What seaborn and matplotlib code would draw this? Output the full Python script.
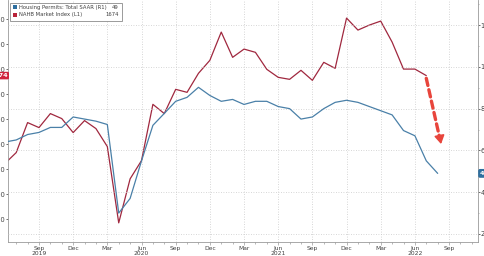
import matplotlib
matplotlib.use("Agg")
import matplotlib.pyplot as plt
import seaborn as sns
import pandas as pd
from matplotlib.patches import Rectangle

# ---- data (monthly, month index: 0 = Jan 2019) ----
permit_months = list(range(5, 43))          # Jun 2019 .. Jul 2022
permits = [1322, 1366, 1486, 1466, 1522, 1502, 1446, 1494, 1462, 1390,
           1085, 1261, 1334, 1559, 1522, 1619, 1607, 1683, 1735, 1848,
           1747, 1780, 1767, 1699, 1667, 1659, 1695, 1655, 1727, 1703,
           1904, 1856, 1876, 1892, 1808, 1700, 1700, 1674]
nahb_months = list(range(5, 44))            # Jun 2019 .. Aug 2022
nahb = [64, 65, 67.6, 68.6, 71, 71, 76, 75, 74, 72.4,
        30, 37, 55, 72, 77.7, 83.5, 85.4, 90.2, 86.3, 83.5,
        84.4, 82, 83.5, 83.5, 81, 80, 75, 76, 80, 83,
        84, 83, 81, 79, 77, 69.5, 67, 55, 49]

xtick_pos = [8, 11, 14, 17, 20, 23, 26, 29, 32, 35, 38, 41, 44]
xtick_labels = ["Sep\n2019", "Dec", "Mar", "Jun\n2020", "Sep", "Dec", "Mar",
                "Jun\n2021", "Sep", "Dec", "Mar", "Jun\n2022", "Sep"]
left_ticks = [1100, 1200, 1300, 1400, 1500, 1600, 1700, 1800, 1900]
right_ticks = [20, 40, 60, 80, 100, 120]

legend_labels = ["Housing Permits: Total SAAR (R1)", "NAHB Market Index (L1)"]
legend_values = ["49", "1674"]

RED = "#a0283f"
BLUE = "#4a80a8"
GRID = "#c9c9c9"
SPINE = "#9a9a9a"
TXT = "#404040"
SQ_BLUE = "#2f6f9f"
SQ_RED = "#b8233a"

sns.set_style("white")
plt.rcParams["font.family"] = ["DejaVu Sans"]

W, H = 485, 256
fig = plt.figure(figsize=(W / 100, H / 100), dpi=100)
ax = fig.add_axes([8 / W, 14 / H, 470 / W, 242 / H])
ax2 = ax.twinx()

df_p = pd.DataFrame({"m": permit_months, "v": permits})
df_n = pd.DataFrame({"m": nahb_months, "v": nahb})
sns.lineplot(data=df_p, x="m", y="v", ax=ax, color=RED, lw=0.9)
sns.lineplot(data=df_n, x="m", y="v", ax=ax2, color=BLUE, lw=0.9)

ax.set_xlim(5.28, 46.54)
ax.set_ylim(1008.4, 1976.3)
ax2.set_ylim(16.15, 132.0)

for a in (ax, ax2):
    a.set_xlabel("")
    a.set_ylabel("")
    for s in a.spines.values():
        s.set_visible(False)

for a, side in ((ax, "left"), (ax, "bottom"), (ax2, "right")):
    a.spines[side].set_visible(True)
    a.spines[side].set_color(SPINE)
    a.spines[side].set_linewidth(0.6)

ax.set_xticks(xtick_pos)
ax.set_xticklabels(xtick_labels, linespacing=0.95)
ax.set_xticks(list(range(6, 47)), minor=True)
ax.set_yticks(left_ticks)
ax.set_yticklabels([str(t) for t in left_ticks])
ax2.set_yticks(right_ticks)
ax2.set_yticklabels([str(t) for t in right_ticks])
ax2.set_yticks(list(range(30, 131, 20)), minor=True)

ax.tick_params(axis="x", which="major", length=2.2, width=0.5, color=SPINE,
               labelsize=4.3, labelcolor=TXT, pad=0.6, direction="out", bottom=True)
ax.tick_params(axis="x", which="minor", length=1.2, width=0.5, color=SPINE, bottom=True)
ax.tick_params(axis="y", which="major", length=1.6, width=0.6, color="#555555",
               labelsize=4.8, labelcolor=TXT, pad=0.4, left=True)
ax2.tick_params(axis="y", which="major", length=1.6, width=0.6, color="#555555",
                labelsize=4.8, labelcolor=TXT, pad=0.4, right=True)
ax2.tick_params(axis="y", which="minor", length=1.0, width=0.5, color=SPINE, right=True)

# grid: vertical dotted at quarter ticks, horizontal at right ticks
ax.grid(False)
ax2.grid(False)
for xv in xtick_pos:
    ax.axvline(xv, color=GRID, lw=0.6, ls=(0, (1, 2)), zorder=0)
for yv in right_ticks:
    ax2.axhline(yv, color=GRID, lw=0.6, ls=(0, (1, 2)), zorder=0)

# last value tags
ax.annotate("1674", xy=(0, permits[-1]), xycoords=("axes fraction", "data"),
            xytext=(-0.2, 0), textcoords="offset points", ha="right", va="center",
            fontsize=4.6, color="white", fontweight="bold",
            bbox=dict(boxstyle="round,pad=0.2", fc="#d0243c", ec="none"),
            annotation_clip=False, zorder=5)
ax2.annotate("49", xy=(1, nahb[-1]), xycoords=("axes fraction", "data"),
             xytext=(1.5, 0), textcoords="offset points", ha="left", va="center",
             fontsize=4.6, color="white", fontweight="bold",
             bbox=dict(boxstyle="round,pad=0.3", fc=SQ_BLUE, ec="none"),
             annotation_clip=False, zorder=5)

# dashed red arrow
ax.annotate("", xy=(43.2, 1420), xytext=(42.0, 1663),
            arrowprops=dict(arrowstyle="-", color="#e8453c", lw=2.4,
                            linestyle=(0, (2.2, 1.3)), shrinkA=0, shrinkB=0))
ax.annotate("", xy=(43.3, 1400), xytext=(43.15, 1435),
            arrowprops=dict(arrowstyle="-|>,head_length=0.5,head_width=0.3",
                            color="#e8453c", lw=1.2, shrinkA=0, shrinkB=0,
                            mutation_scale=10))

# legend box (figure pixel layout)
def fx(px):
    return px / W

def fy(py):
    return 1 - py / H

fig.patches.append(Rectangle((fx(10), fy(20.5)), fx(122) - fx(10), fy(2.5) - fy(20.5),
                             transform=fig.transFigure, fc="white", ec="#8a8a8a",
                             lw=0.6, zorder=10))
rows_y = [7.2, 14.8]
for ry, lab, val, col in zip(rows_y, legend_labels, legend_values, [SQ_BLUE, SQ_RED]):
    fig.patches.append(Rectangle((fx(13), fy(ry + 2)), fx(4), 4 / H,
                                 transform=fig.transFigure, fc=col, ec="none", zorder=11))
    fig.text(fx(19), fy(ry), lab, ha="left", va="center", fontsize=3.8,
             color=TXT, zorder=12)
    fig.text(fx(119), fy(ry), val, ha="right", va="center", fontsize=3.8,
             color=TXT, zorder=12)

fig.savefig("out.png", dpi=100)
